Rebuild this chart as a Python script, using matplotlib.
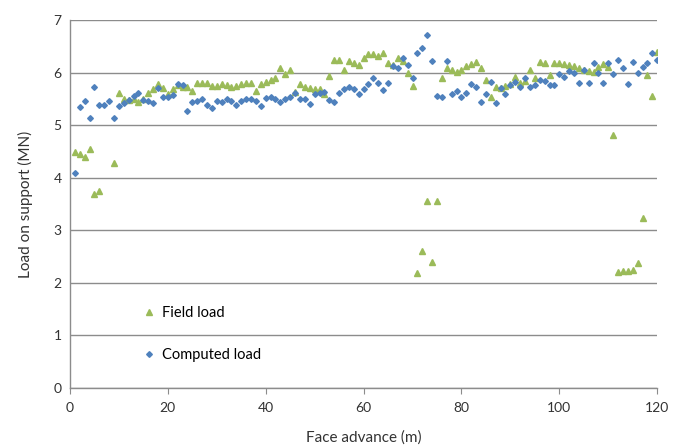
import numpy as np
import matplotlib.pyplot as plt

# ------------------------------------------------------
# Data
# ------------------------------------------------------
computed_x = list(range(1, 121))
computed_load = [
    4.10, 5.34, 5.46, 5.13, 5.72, 5.39, 5.39, 5.47, 5.13, 5.37,
    5.43, 5.48, 5.56, 5.62, 5.48, 5.46, 5.43, 5.70, 5.53, 5.54,
    5.57, 5.79, 5.76, 5.27, 5.44, 5.46, 5.49, 5.38, 5.32, 5.47,
    5.44, 5.49, 5.46, 5.38, 5.46, 5.49, 5.50, 5.46, 5.37, 5.52,
    5.54, 5.50, 5.44, 5.49, 5.54, 5.62, 5.50, 5.50, 5.40, 5.59,
    5.62, 5.63, 5.48, 5.45, 5.62, 5.68, 5.72, 5.68, 5.59, 5.68,
    5.78, 5.90, 5.81, 5.67, 5.81, 6.13, 6.08, 6.28, 6.14, 5.89,
    6.38, 6.47, 6.72, 6.22, 5.56, 5.54, 6.22, 5.59, 5.65, 5.53,
    5.62, 5.78, 5.72, 5.44, 5.59, 5.82, 5.43, 5.70, 5.59, 5.76,
    5.82, 5.72, 5.89, 5.72, 5.76, 5.87, 5.84, 5.76, 5.76, 5.97,
    5.91, 6.03, 6.00, 5.80, 6.06, 5.80, 6.18, 5.99, 5.80, 6.18,
    5.97, 6.25, 6.08, 5.78, 6.20, 6.00, 6.11, 6.18, 6.37, 6.25,
]

field_x = [1, 2, 3, 4, 5, 6] + list(range(9, 121))
field_load = [
    4.50, 4.45, 4.40, 4.55, 3.70, 3.75,
    4.28, 5.62, 5.49, 5.48, 5.50, 5.44, 5.50, 5.62, 5.68, 5.79,
    5.70, 5.60, 5.68, 5.77, 5.72, 5.72, 5.65, 5.80, 5.80, 5.80,
    5.75, 5.75, 5.78, 5.77, 5.73, 5.75, 5.78, 5.80, 5.81, 5.65,
    5.78, 5.82, 5.86, 5.89, 6.08, 5.97, 6.06, 5.63, 5.78, 5.72,
    5.70, 5.68, 5.68, 5.59, 5.94, 6.24, 6.24, 6.06, 6.22, 6.19,
    6.14, 6.28, 6.35, 6.35, 6.32, 6.37, 6.18, 6.14, 6.28, 6.22,
    6.00, 5.75, 2.18, 2.60, 3.55, 2.40, 3.55, 5.90, 6.09, 6.06,
    6.01, 6.06, 6.13, 6.16, 6.20, 6.09, 5.87, 5.53, 5.72, 5.70,
    5.75, 5.78, 5.92, 5.80, 5.85, 6.06, 5.90, 6.20, 6.19, 5.95,
    6.18, 6.19, 6.16, 6.14, 6.13, 6.09, 6.06, 6.03, 6.01, 6.11,
    6.16, 6.10, 4.82, 2.21, 2.22, 2.23, 2.24, 2.37, 3.23, 5.95,
    5.55, 6.40,
]

x_ticks = [0, 20, 40, 60, 80, 100, 120]
y_ticks = [0, 1, 2, 3, 4, 5, 6, 7]

plt.rcParams['font.family'] = ['Lato', 'DejaVu Sans']

fig = plt.figure(figsize=(6.86, 4.47), dpi=100)
ax = fig.add_axes([0.102, 0.132, 0.856, 0.823])

ax.plot(field_x, field_load, linestyle='none', marker='^', markersize=4.3,
        color='#9BBB59', label='Field load')
ax.plot(computed_x, computed_load, linestyle='none', marker='D', markersize=2.9,
        color='#4F81BD', label='Computed load')

ax.set_xlim(0, 120)
ax.set_ylim(0, 7)
ax.set_xticks(x_ticks)
ax.set_yticks(y_ticks)
ax.yaxis.grid(True, color='#8c8c8c', linewidth=1.0)
ax.set_axisbelow(True)

for side in ['top', 'right']:
    ax.spines[side].set_visible(False)
for side in ['left', 'bottom']:
    ax.spines[side].set_color('#8c8c8c')
    ax.spines[side].set_linewidth(1.0)

ax.tick_params(axis='both', labelsize=10, colors='#333333', length=0, pad=6)
ax.tick_params(axis='x', length=4, color='#8c8c8c', direction='out')

ax.set_xlabel('Face advance (m)', fontsize=11, color='#333333', labelpad=12)
ax.set_ylabel('Load on support (MN)', fontsize=11, color='#333333', labelpad=15)

ax.legend(loc='lower left', bbox_to_anchor=(0.1, 0.035), frameon=False,
          fontsize=10.5, labelspacing=1.9, handletextpad=0.4,
          handlelength=1.0, markerscale=1.0)

fig.savefig('out.png', dpi=100)
